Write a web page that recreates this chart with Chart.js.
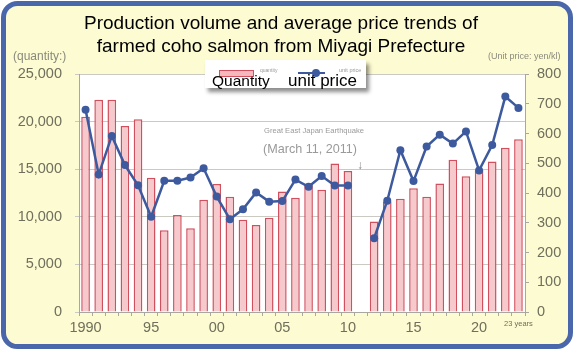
<!DOCTYPE html>
<html>
<head>
<meta charset="utf-8">
<script src="https://cdn.jsdelivr.net/npm/chart.js@4.4.1/dist/chart.umd.min.js"></script>
<style>
  html, body { margin: 0; padding: 0; background: #ffffff; }
  #wrap { position: relative; width: 574px; height: 356px; overflow: hidden; font-family: "Liberation Sans", Arial, sans-serif; }
  #c { position: absolute; left: 0; top: 0; }
  .t { position: absolute; white-space: nowrap; }
  #title { left: -6px; top: 11px; width: 574px; text-align: center; font-size: 19px; line-height: 23px; color: #000; }
  #legend { position: absolute; left: 205px; top: 60px; width: 161px; height: 28px; background: #fff; box-shadow: 3px 4px 4px rgba(0,0,0,0.45); }
</style>
</head>
<body>
<div id="wrap">
  <canvas id="c" width="574" height="356"></canvas>
  <div id="title" class="t">Production volume and average price trends of<br>farmed coho salmon from Miyagi Prefecture</div>
  <div class="t" style="left:13px; top:49px; font-size:12px; line-height:14px; color:#8a8a7c;">(quantity:)</div>
  <div class="t" style="left:488px; top:51px; font-size:9px; line-height:10px; color:#8a8a7c;">(Unit price: yen/kl)</div>
  <div class="t" style="left:264px; top:126px; font-size:7.6px; line-height:10px; color:#9a9a9a;">Great East Japan Earthquake</div>
  <div class="t" style="left:263px; top:141px; font-size:12.6px; line-height:16px; color:#9a9a9a;">(March 11, 2011)</div>
  <div class="t" style="left:357px; top:158px; font-size:12px; line-height:14px; color:#8a8a8a;">↓</div>
  <div id="legend">
    <div style="position:absolute; left:14px; top:10px; width:33px; height:5px; background:#f4b8bd; border:1px solid #d05060;"></div>
    <div class="t" style="left:55px; top:7px; font-size:5px; line-height:6px; color:#999;">quantity</div>
    <div style="position:absolute; left:93px; top:12px; width:27px; height:2px; background:#3d5a9e;"></div>
    <div style="position:absolute; left:107px; top:9px; width:8px; height:8px; border-radius:50%; background:#3d5a9e;"></div>
    <div class="t" style="left:134px; top:7px; font-size:5.5px; line-height:6px; color:#999;">unit price</div>
    <div class="t" style="left:7px; top:13px; font-size:15.5px; line-height:15.5px; color:#000;">Quantity</div>
    <div class="t" style="left:83px; top:12px; font-size:17px; line-height:17px; color:#000;">unit price</div>
  </div>
</div>
<script>
// ---- data ----
const years = ['1990','1991','1992','1993','1994','1995','1996','1997','1998','1999',
               '2000','2001','2002','2003','2004','2005','2006','2007','2008','2009',
               '2010','2011','2012','2013','2014','2015','2016','2017','2018','2019',
               '2020','2021','2022','2023'];
const xTickLabels = ['1990','','','','','95','','','','',
                     '00','','','','','05','','','','',
                     '10','','','','','15','','','','',
                     '20','','','23 years'];
const quantity = [20500,22300,22300,19550,20250,14100,8600,10200,8800,11800,
                  13450,12100,9700,9150,9900,12650,12000,13450,12850,15600,
                  14800,null,9500,11600,11900,13000,12100,13500,16000,14250,
                  14900,15800,17250,18150];
const unitPrice = [680,462,592,494,426,320,441,441,452,483,
                   388,312,345,402,371,373,445,421,457,425,
                   425,null,248,374,544,440,556,596,566,607,
                   476,561,724,686];
const quantityTicks = [0,5000,10000,15000,20000,25000];
const priceTicks = [0,100,200,300,400,500,600,700,800];

const FONT = '"Liberation Sans", Arial, sans-serif';
const TICK_COLOR = '#6f6f5c';

const framePlugin = {
  id: 'frame',
  beforeDraw(chart) {
    const ctx = chart.ctx;
    ctx.save();
    const x = 3.5, y = 3.5, w = 567, h = 343, r = 14;
    ctx.beginPath();
    ctx.moveTo(x + r, y);
    ctx.lineTo(x + w - r, y);
    ctx.arcTo(x + w, y, x + w, y + r, r);
    ctx.lineTo(x + w, y + h - r);
    ctx.arcTo(x + w, y + h, x + w - r, y + h, r);
    ctx.lineTo(x + r, y + h);
    ctx.arcTo(x, y + h, x, y + h - r, r);
    ctx.lineTo(x, y + r);
    ctx.arcTo(x, y, x + r, y, r);
    ctx.closePath();
    ctx.fillStyle = '#fdfbd2';
    ctx.fill();
    ctx.lineWidth = 5;
    ctx.strokeStyle = '#4a67ab';
    ctx.stroke();
    const a = chart.chartArea;
    ctx.fillStyle = '#ffffff';
    ctx.fillRect(a.left, a.top, a.right - a.left, a.bottom - a.top);
    ctx.restore();
  }
};

new Chart(document.getElementById('c'), {
  data: {
    labels: years,
    datasets: [
      {
        type: 'line',
        label: 'unit price',
        data: unitPrice,
        yAxisID: 'p',
        borderColor: '#3d5a9e',
        backgroundColor: '#3d5a9e',
        borderWidth: 2.5,
        pointRadius: 4,
        pointBackgroundColor: '#3d5a9e',
        pointBorderColor: '#3d5a9e',
        pointBorderWidth: 0,
        tension: 0,
        spanGaps: false,
        order: 0
      },
      {
        type: 'bar',
        label: 'quantity',
        data: quantity,
        yAxisID: 'q',
        backgroundColor: '#f6c9cc',
        borderColor: '#d0505e',
        borderWidth: 1.5,
        barPercentage: 0.66,
        categoryPercentage: 1.0,
        order: 1
      }
    ]
  },
  options: {
    responsive: false,
    devicePixelRatio: 1,
    animation: false,
    layout: { padding: { top: 74, left: 0, right: 0, bottom: 0 } },
    plugins: {
      legend: { display: false },
      title: { display: false },
      tooltip: { enabled: false }
    },
    scales: {
      x: {
        offset: true,
        afterFit(s) { s.height = 44; },
        border: { display: true, color: '#a8a8a0', width: 1 },
        grid: { offset: true, drawOnChartArea: false, drawTicks: true, tickLength: 4, color: '#a8a8a0' },
        ticks: {
          autoSkip: false,
          maxRotation: 0,
          minRotation: 0,
          padding: 3,
          color: TICK_COLOR,
          font: (ctx) => (ctx.index === years.length - 1 ? { family: FONT, size: 7.5 } : { family: FONT, size: 14.5 }),
          callback: (v, i) => xTickLabels[i]
        }
      },
      q: {
        type: 'linear',
        position: 'left',
        min: 0,
        max: 25000,
        afterFit(s) { s.width = 79; },
        afterBuildTicks(s) { s.ticks = quantityTicks.map(v => ({ value: v })); },
        border: { display: true, color: '#a8a8a0', width: 1 },
        grid: { color: '#cacac2', lineWidth: 1, drawTicks: true, tickLength: 4 },
        ticks: {
          padding: 13,
          color: TICK_COLOR,
          font: { family: FONT, size: 14.5 },
          callback: (v) => v.toLocaleString('en-US')
        }
      },
      p: {
        type: 'linear',
        position: 'right',
        min: 0,
        max: 800,
        afterFit(s) { s.width = 49; },
        afterBuildTicks(s) { s.ticks = priceTicks.map(v => ({ value: v })); },
        border: { display: true, color: '#a8a8a0', width: 1 },
        grid: { drawOnChartArea: false, drawTicks: true, tickLength: 4, color: '#a8a8a0' },
        ticks: {
          padding: 8,
          color: TICK_COLOR,
          font: { family: FONT, size: 14.5 },
          callback: (v) => String(v)
        }
      }
    }
  },
  plugins: [framePlugin]
});
</script>
</body>
</html>
